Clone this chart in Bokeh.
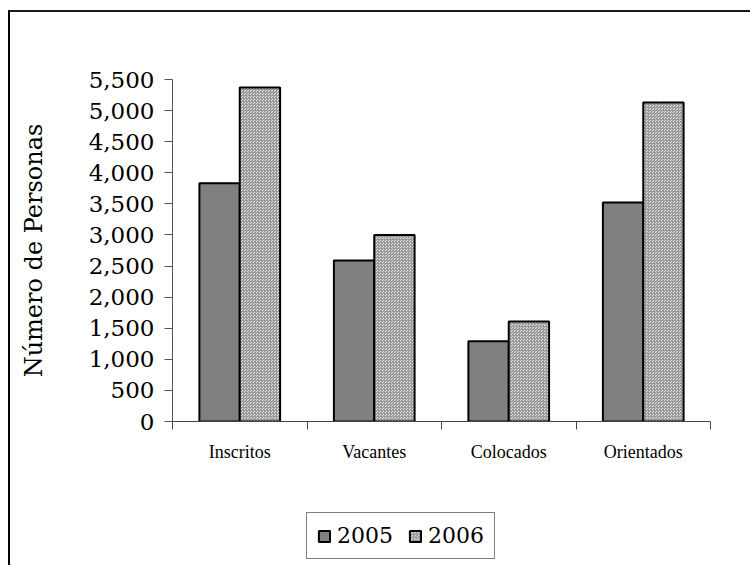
from bokeh.plotting import figure
from bokeh.layouts import column
from bokeh.models import (ColumnDataSource, Range1d, FixedTicker, LinearAxis,
                          NumeralTickFormatter, Legend, LegendItem)
from bokeh.embed import file_html
from bokeh.resources import INLINE

categories = ["Inscritos", "Vacantes", "Colocados", "Orientados"]
series_names = ["2005", "2006"]
values_2005 = [3830, 2590, 1290, 3520]
values_2006 = [5370, 3000, 1610, 5130]
y_ticks = list(range(0, 5501, 500))

n = len(categories)
centers = [i + 0.5 for i in range(n)]
bar_w = 0.3
src05 = ColumnDataSource(dict(x=[c - bar_w / 2 for c in centers], top=values_2005))
src06 = ColumnDataSource(dict(x=[c + bar_w / 2 for c in centers], top=values_2006))

style05 = dict(fill_color="#808080", line_color="black", line_width=2)
style06 = dict(fill_color="#e6e6e6", hatch_pattern="criss_cross", hatch_color="#9a9a9a",
               hatch_scale=3, hatch_weight=1, line_color="black", line_width=2)

p = figure(width=740, height=480, output_backend="svg", toolbar_location=None,
           x_range=Range1d(0, n), y_range=Range1d(0, 5500),
           x_axis_type=None, min_border_left=162, min_border_right=40,
           min_border_top=67, min_border_bottom=71)
p.frame_width = 538
p.frame_height = 342
p.outline_line_color = None
p.xgrid.visible = False
p.ygrid.visible = False
p.background_fill_color = "white"
p.border_fill_color = "white"

r05 = p.vbar(x="x", top="top", width=bar_w, source=src05, **style05)
r06 = p.vbar(x="x", top="top", width=bar_w, source=src06, **style06)

# y axis
ya = p.yaxis[0]
ya.ticker = FixedTicker(ticks=y_ticks, minor_ticks=[])
ya.formatter = NumeralTickFormatter(format="0,0")
ya.major_tick_out = 8
ya.major_tick_in = 0
ya.minor_tick_out = 0
ya.minor_tick_in = 0
ya.axis_line_color = "#555555"
ya.major_tick_line_color = "#555555"
ya.major_label_text_font = "DejaVu Serif"
ya.major_label_text_font_size = "23px"
ya.major_label_text_color = "black"
ya.major_label_standoff = 10
ya.axis_label = "Número de Personas"
ya.axis_label_text_font = "DejaVu Serif"
ya.axis_label_text_font_size = "24px"
ya.axis_label_text_font_style = "normal"
ya.axis_label_text_color = "black"
ya.axis_label_standoff = 38

# x axis: tick marks between categories
xa = LinearAxis(ticker=FixedTicker(ticks=list(range(n + 1)), minor_ticks=[]),
                major_label_overrides={i: "" for i in range(n + 1)},
                major_label_text_font_size="0px", major_label_standoff=0,
                major_tick_out=8, major_tick_in=0, minor_tick_out=0,
                axis_line_color="#444444", major_tick_line_color="#444444")
p.add_layout(xa, "below")
# x axis: category names
xl = LinearAxis(ticker=FixedTicker(ticks=centers, minor_ticks=[]),
                major_label_overrides={c: name for c, name in zip(centers, categories)},
                major_label_text_font="Liberation Serif",
                major_label_text_font_size="18px", major_label_text_color="black",
                major_label_standoff=12, major_tick_out=0, major_tick_in=0,
                minor_tick_out=0, axis_line_color=None)
p.add_layout(xl, "below")

# legend strip below the chart (proxy renderers are hidden, only the legend shows)
lp = figure(width=740, height=73, output_backend="svg", toolbar_location=None,
            x_range=Range1d(0, n), y_range=Range1d(0, 5500),
            x_axis_type=None, y_axis_type=None, min_border=0)
lp.outline_line_color = None
lp.xgrid.visible = False
lp.ygrid.visible = False
lp.background_fill_color = "white"
lp.border_fill_color = "white"
l05 = lp.vbar(x="x", top="top", width=bar_w, source=src05, visible=False, **style05)
l06 = lp.vbar(x="x", top="top", width=bar_w, source=src06, visible=False, **style06)

legend = Legend(items=[LegendItem(label=series_names[0], renderers=[l05], index=0),
                       LegendItem(label=series_names[1], renderers=[l06], index=0)],
                orientation="horizontal", location=(134, 6),
                label_text_font="DejaVu Serif", label_text_font_size="22px",
                label_text_color="black", glyph_width=14, glyph_height=14,
                label_standoff=6, spacing=15, padding=10, margin=0,
                border_line_color="black", border_line_width=1,
                background_fill_color="white", background_fill_alpha=1,
                inactive_fill_alpha=0)
lp.add_layout(legend, "center")

layout = column(p, lp, spacing=0)
layout.styles = {"border-top": "2px solid #1a1a1a", "border-left": "2px solid #000",
                 "margin-left": "8px", "margin-top": "10px"}

open("out.html", "w").write(file_html(layout, INLINE))
